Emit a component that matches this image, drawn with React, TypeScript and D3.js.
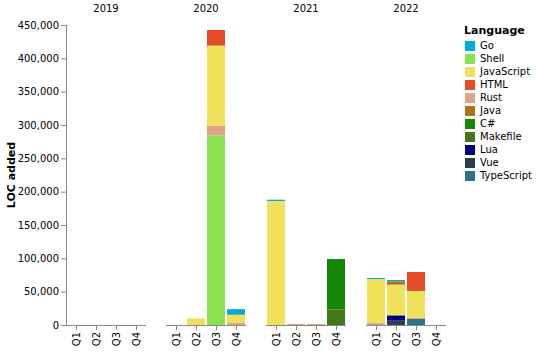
import React from "react";
import * as d3 from "d3";

// years shown as column facets, quarters inside each
const years = ["2019", "2020", "2021", "2022"];
const quarters = ["Q1", "Q2", "Q3", "Q4"];

// legend order (as in the source chart)
const languages = ["Go", "Shell", "JavaScript", "HTML", "Rust", "Java", "C#", "Makefile", "Lua", "Vue", "TypeScript"];
const langColors = ["#00add8", "#89e051", "#f1e05a", "#e34c26", "#dea584", "#b07219", "#178600", "#427819", "#000080", "#2c3e50", "#2b7489"];

// LOC added per quarter, 2019 Q1 ... 2022 Q4
const goLoc = [0, 0, 0, 0, 0, 0, 0, 8000, 2000, 0, 0, 0, 1500, 2000, 0, 0];
const shellLoc = [0, 0, 0, 0, 0, 0, 284500, 0, 0, 0, 0, 0, 0, 0, 0, 0];
const jsLoc = [0, 0, 0, 0, 0, 10000, 120000, 12000, 186000, 0, 0, 0, 65500, 46000, 40000, 0];
const htmlLoc = [0, 0, 0, 0, 0, 0, 22500, 0, 0, 0, 0, 0, 0, 1000, 27000, 0];
const rustLoc = [0, 0, 0, 0, 0, 0, 14500, 3000, 0, 1500, 1500, 0, 3500, 0, 2000, 0];
const javaLoc = [0, 0, 0, 0, 0, 0, 1000, 800, 0, 0, 0, 0, 0, 4000, 1500, 0];
const csharpLoc = [0, 0, 0, 0, 0, 0, 0, 0, 0, 0, 0, 75500, 0, 0, 0, 0];
const makefileLoc = [0, 0, 0, 0, 0, 0, 0, 0, 0, 0, 0, 23500, 0, 0, 0, 0];
const luaLoc = [0, 0, 0, 0, 0, 0, 0, 0, 0, 0, 0, 0, 0, 8000, 0, 0];
const vueLoc = [0, 0, 0, 0, 0, 0, 0, 0, 0, 0, 0, 0, 0, 6500, 0, 0];
const tsLoc = [0, 0, 0, 0, 0, 0, 0, 0, 0, 0, 0, 0, 0, 0, 9000, 0];

const yTicks = [0, 50000, 100000, 150000, 200000, 250000, 300000, 350000, 400000, 450000];

const seriesByLang: Record<string, number[]> = {
  Go: goLoc, Shell: shellLoc, JavaScript: jsLoc, HTML: htmlLoc, Rust: rustLoc, Java: javaLoc,
  "C#": csharpLoc, Makefile: makefileLoc, Lua: luaLoc, Vue: vueLoc, TypeScript: tsLoc,
};

const FONT = "DejaVu Sans, sans-serif";

export default function App() {
  const width = 536, height = 351;
  const top = 25, plotH = 300, panelW = 80, panelGap = 20, left = 66;

  const rows = years.flatMap((yr, yi) =>
    quarters.map((q, qi) => {
      const row: any = { year: yr, quarter: q };
      languages.forEach((l) => (row[l] = seriesByLang[l][yi * 4 + qi]));
      return row;
    })
  );

  // vega stacks by colour value: alphabetical, first on top
  const stackKeys = [...languages].sort().reverse();
  const stacked = d3.stack().keys(stackKeys)(rows);

  const color = d3.scaleOrdinal<string>().domain(languages).range(langColors);
  const y = d3.scaleLinear().domain([0, 450000]).range([plotH, 0]);
  const x = d3.scaleBand().domain(quarters).range([0, panelW]).paddingInner(0.1).paddingOuter(0.05);
  const fmt = d3.format(",");

  return (
    <svg width={width} height={height} style={{ position: "absolute", left: 0, top: 0, fontFamily: FONT }}>
      <rect width={width} height={height} fill="white" />
      {/* y axis title */}
      <text transform={`translate(15,${top + plotH / 2}) rotate(-90)`} textAnchor="middle" fontSize={11} fontWeight="bold">
        LOC added
      </text>
      {/* y axis */}
      <g transform={`translate(${left},${top})`}>
        <line x1={0.5} x2={0.5} y1={0} y2={plotH} stroke="#888" />
        {yTicks.map((t) => (
          <g key={t} transform={`translate(0,${y(t) + 0.5})`}>
            <line x1={-5} x2={0} stroke="#888" />
            <text x={-7} dy="0.32em" textAnchor="end" fontSize={10} fill="#000">
              {fmt(t)}
            </text>
          </g>
        ))}
      </g>
      {years.map((yr, yi) => {
        const px = left + yi * (panelW + panelGap);
        return (
          <g key={yr} transform={`translate(${px},${top})`}>
            <text x={panelW / 2} y={-13} textAnchor="middle" fontSize={10}>
              {yr}
            </text>
            {stacked.map((s) => (
              <g key={s.key} fill={color(s.key)}>
                {s.slice(yi * 4, yi * 4 + 4).map((d, i) =>
                  d[1] - d[0] > 0 ? (
                    <rect key={i} x={x(quarters[i])} width={x.bandwidth()} y={y(d[1])} height={y(d[0]) - y(d[1])} />
                  ) : null
                )}
              </g>
            ))}
            <line x1={0} x2={panelW} y1={plotH + 0.5} y2={plotH + 0.5} stroke="#888" />
            {quarters.map((q) => {
              const cx = (x(q) as number) + x.bandwidth() / 2 + 0.5;
              return (
                <g key={q} transform={`translate(${cx},${plotH})`}>
                  <line y1={0} y2={5} stroke="#888" />
                  <text transform="translate(0,7) rotate(-90)" textAnchor="end" dy="0.32em" fontSize={10}>
                    {q}
                  </text>
                </g>
              );
            })}
          </g>
        );
      })}
      {/* legend */}
      <g transform="translate(464,0)">
        <text x={0} y={34} fontSize={11} fontWeight="bold">
          Language
        </text>
        {languages.map((l, i) => (
          <g key={l} transform={`translate(0,${46 + i * 13})`}>
            <rect x={1} y={-5} width={10} height={10} fill={color(l)} />
            <text x={16} dy="0.32em" fontSize={10}>
              {l}
            </text>
          </g>
        ))}
      </g>
    </svg>
  );
}
